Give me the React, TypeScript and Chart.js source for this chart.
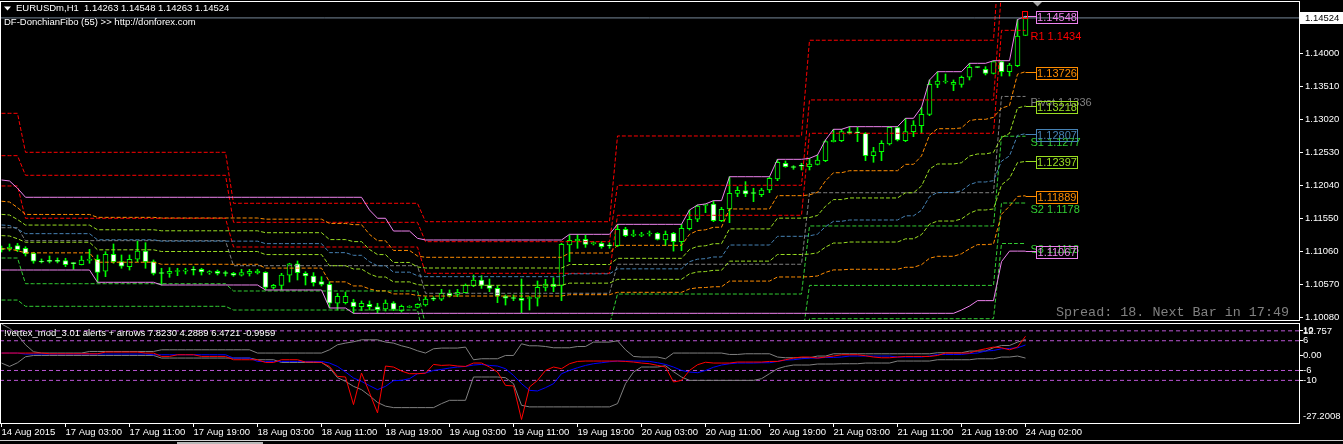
import React, { useEffect, useRef } from 'react';
import { Chart, registerables } from 'chart.js';

Chart.register(...registerables);

// ---------------- DATA ----------------
const SYMBOL = 'EURUSDm,H1';
const INDICATOR_NAME = 'DF-DonchianFibo (55) >> http://donforex.com';
const VERTEX_NAME = '!vertex_mod_3.01 alerts + arrows';
const STATUS_TEXT = 'Spread: 18. Next Bar in 17:49';

const OPEN = [
  1.11113, 1.11099, 1.11148, 1.11109, 1.11035, 1.10921, 1.10929, 1.10921, 1.10926, 1.10884,
  1.10866, 1.10929, 1.10946, 1.10768, 1.11020, 1.10911, 1.10837, 1.10946, 1.11069, 1.10911,
  1.10738, 1.10738, 1.10765, 1.10768, 1.10787, 1.10797, 1.10743, 1.10768, 1.10738, 1.10738,
  1.10709, 1.10738, 1.10743, 1.10753, 1.10530, 1.10560, 1.10709, 1.10877, 1.10738, 1.10698,
  1.10614, 1.10575, 1.10294, 1.10303, 1.10313, 1.10243, 1.10279, 1.10243, 1.10209, 1.10298,
  1.10184, 1.10233, 1.10233, 1.10268, 1.10357, 1.10353, 1.10442, 1.10427, 1.10451, 1.10555,
  1.10639, 1.10565, 1.10515, 1.10402, 1.10368, 1.10368, 1.10365, 1.10368, 1.10530, 1.10580,
  1.10560, 1.11158, 1.11222, 1.11242, 1.11177, 1.11183, 1.11148, 1.11148, 1.11390, 1.11301,
  1.11301, 1.11321, 1.11331, 1.11232, 1.11331, 1.11207, 1.11399, 1.11539, 1.11746, 1.11766,
  1.11519, 1.11692, 1.11924, 1.11963, 1.11924, 1.11904, 1.11973, 1.12136, 1.12369, 1.12310,
  1.12329, 1.12319, 1.12354, 1.12408, 1.12690, 1.12704, 1.12838, 1.12823, 1.12814, 1.12482,
  1.12541, 1.12655, 1.12897, 1.12704, 1.12838, 1.12927, 1.13095, 1.13540, 1.13574, 1.13540,
  1.13540, 1.13644, 1.13792, 1.13762, 1.13703, 1.13875, 1.13727, 1.13816, 1.14263,
];
const HIGH = [
  1.11143, 1.11173, 1.11183, 1.11133, 1.11050, 1.10951, 1.10995, 1.10966, 1.10961, 1.10896,
  1.10995, 1.11094, 1.11010, 1.11059, 1.11173, 1.11010, 1.11010, 1.11217, 1.11192, 1.10936,
  1.10813, 1.10822, 1.10813, 1.10813, 1.10837, 1.10813, 1.10777, 1.10787, 1.10772, 1.10753,
  1.10797, 1.10797, 1.10797, 1.10762, 1.10575, 1.10738, 1.10887, 1.10921, 1.10762, 1.10748,
  1.10688, 1.10614, 1.10442, 1.10461, 1.10353, 1.10328, 1.10328, 1.10294, 1.10343, 1.10318,
  1.10268, 1.10258, 1.10288, 1.10392, 1.10392, 1.10501, 1.10491, 1.10501, 1.10580, 1.10713,
  1.10703, 1.10654, 1.10555, 1.10417, 1.10417, 1.10654, 1.10392, 1.10624, 1.10649, 1.10673,
  1.11183, 1.11306, 1.11316, 1.11306, 1.11207, 1.11207, 1.11192, 1.11464, 1.11420, 1.11380,
  1.11346, 1.11365, 1.11341, 1.11365, 1.11346, 1.11464, 1.11677, 1.11751, 1.11766, 1.11815,
  1.11717, 1.12170, 1.12022, 1.12097, 1.11999, 1.11999, 1.12170, 1.12428, 1.12403, 1.12334,
  1.12369, 1.12443, 1.12492, 1.12715, 1.12873, 1.12873, 1.12912, 1.12903, 1.12823, 1.12606,
  1.12704, 1.12912, 1.12912, 1.13036, 1.13001, 1.13199, 1.13604, 1.13727, 1.13693, 1.13604,
  1.13663, 1.13851, 1.13797, 1.13801, 1.13890, 1.13890, 1.13851, 1.14501, 1.14548,
];
const LOW = [
  1.11054, 1.11069, 1.11059, 1.10995, 1.10887, 1.10892, 1.10892, 1.10892, 1.10837, 1.10797,
  1.10862, 1.10887, 1.10605, 1.10688, 1.10887, 1.10813, 1.10787, 1.10911, 1.10813, 1.10713,
  1.10565, 1.10679, 1.10703, 1.10728, 1.10713, 1.10713, 1.10723, 1.10713, 1.10698, 1.10694,
  1.10698, 1.10698, 1.10728, 1.10491, 1.10505, 1.10491, 1.10609, 1.10639, 1.10565, 1.10550,
  1.10550, 1.10224, 1.10194, 1.10283, 1.10145, 1.10184, 1.10194, 1.10145, 1.10179, 1.10184,
  1.10164, 1.10228, 1.10224, 1.10253, 1.10333, 1.10333, 1.10387, 1.10392, 1.10447, 1.10540,
  1.10515, 1.10466, 1.10303, 1.10268, 1.10333, 1.10155, 1.10194, 1.10253, 1.10476, 1.10466,
  1.10333, 1.10911, 1.11109, 1.11123, 1.11158, 1.11109, 1.11109, 1.11133, 1.11281, 1.11281,
  1.11281, 1.11291, 1.11232, 1.11148, 1.11067, 1.11074, 1.11380, 1.11504, 1.11637, 1.11504,
  1.11504, 1.11489, 1.11874, 1.11874, 1.11800, 1.11874, 1.11933, 1.12111, 1.12310, 1.12280,
  1.12270, 1.12270, 1.12344, 1.12393, 1.12685, 1.12690, 1.12804, 1.12690, 1.12408, 1.12384,
  1.12408, 1.12640, 1.12700, 1.12690, 1.12764, 1.12814, 1.13075, 1.13490, 1.13555, 1.13446,
  1.13496, 1.13604, 1.13786, 1.13678, 1.13693, 1.13663, 1.13663, 1.13801, 1.14263,
];
const CLOSE = [
  1.11084, 1.11128, 1.11088, 1.11029, 1.10917, 1.10906, 1.10914, 1.10914, 1.10866, 1.10881,
  1.10936, 1.10936, 1.10753, 1.11020, 1.10911, 1.10843, 1.10946, 1.11069, 1.10911, 1.10738,
  1.10735, 1.10768, 1.10777, 1.10787, 1.10784, 1.10757, 1.10762, 1.10738, 1.10735, 1.10709,
  1.10748, 1.10768, 1.10772, 1.10530, 1.10560, 1.10713, 1.10877, 1.10748, 1.10698, 1.10599,
  1.10575, 1.10294, 1.10397, 1.10397, 1.10243, 1.10294, 1.10243, 1.10199, 1.10298, 1.10204,
  1.10249, 1.10249, 1.10279, 1.10357, 1.10354, 1.10442, 1.10406, 1.10457, 1.10560, 1.10639,
  1.10560, 1.10515, 1.10402, 1.10368, 1.10365, 1.10338, 1.10368, 1.10530, 1.10580, 1.10540,
  1.11168, 1.11228, 1.11242, 1.11168, 1.11183, 1.11133, 1.11145, 1.11390, 1.11296, 1.11306,
  1.11311, 1.11331, 1.11242, 1.11316, 1.11207, 1.11405, 1.11539, 1.11736, 1.11755, 1.11519,
  1.11687, 1.11924, 1.11969, 1.11914, 1.11921, 1.11973, 1.12146, 1.12384, 1.12319, 1.12307,
  1.12326, 1.12359, 1.12418, 1.12690, 1.12710, 1.12838, 1.12814, 1.12820, 1.12482, 1.12541,
  1.12666, 1.12903, 1.12715, 1.12838, 1.12937, 1.13095, 1.13540, 1.13589, 1.13589, 1.13570,
  1.13644, 1.13792, 1.13789, 1.13703, 1.13875, 1.13727, 1.13826, 1.14256, 1.14524,
];

// Donchian (55) channel
const DON_UPPER = [
  1.12122, 1.12107, 1.11999, 1.11865, 1.11865, 1.11865, 1.11865, 1.11865, 1.11865, 1.11865,
  1.11865, 1.11865, 1.11865, 1.11865, 1.11865, 1.11865, 1.11865, 1.11865, 1.11865, 1.11865,
  1.11865, 1.11865, 1.11865, 1.11865, 1.11865, 1.11865, 1.11865, 1.11865, 1.11865, 1.11865,
  1.11865, 1.11865, 1.11865, 1.11865, 1.11865, 1.11865, 1.11865, 1.11865, 1.11865, 1.11865,
  1.11865, 1.11865, 1.11865, 1.11865, 1.11865, 1.11865, 1.11677, 1.11554, 1.11554, 1.11365,
  1.11365, 1.11365, 1.11257, 1.11232, 1.11232, 1.11232, 1.11232, 1.11232, 1.11232, 1.11232,
  1.11232, 1.11232, 1.11232, 1.11232, 1.11232, 1.11232, 1.11232, 1.11232, 1.11232, 1.11232,
  1.11232, 1.11316, 1.11316, 1.11316, 1.11316, 1.11316, 1.11316, 1.11464, 1.11464, 1.11464,
  1.11464, 1.11464, 1.11464, 1.11464, 1.11464, 1.11464, 1.11677, 1.11751, 1.11766, 1.11815,
  1.11815, 1.12170, 1.12170, 1.12170, 1.12170, 1.12170, 1.12170, 1.12428, 1.12428, 1.12428,
  1.12428, 1.12443, 1.12492, 1.12715, 1.12873, 1.12873, 1.12912, 1.12912, 1.12912, 1.12912,
  1.12912, 1.12912, 1.12912, 1.13036, 1.13036, 1.13199, 1.13604, 1.13727, 1.13727, 1.13727,
  1.13727, 1.13851, 1.13851, 1.13851, 1.13890, 1.13890, 1.13890, 1.14501, 1.14548,
];
const DON_LOWER = [
  1.10787, 1.10787, 1.10787, 1.10787, 1.10787, 1.10787, 1.10787, 1.10787, 1.10787, 1.10787,
  1.10787, 1.10787, 1.10605, 1.10605, 1.10605, 1.10605, 1.10605, 1.10605, 1.10605, 1.10605,
  1.10565, 1.10565, 1.10565, 1.10565, 1.10565, 1.10565, 1.10565, 1.10565, 1.10565, 1.10565,
  1.10565, 1.10565, 1.10565, 1.10491, 1.10491, 1.10491, 1.10491, 1.10491, 1.10491, 1.10491,
  1.10491, 1.10224, 1.10224, 1.10224, 1.10145, 1.10145, 1.10145, 1.10145, 1.10145, 1.10145,
  1.10145, 1.10145, 1.10145, 1.10145, 1.10145, 1.10145, 1.10145, 1.10145, 1.10145, 1.10145,
  1.10145, 1.10145, 1.10145, 1.10145, 1.10145, 1.10145, 1.10145, 1.10145, 1.10145, 1.10145,
  1.10145, 1.10145, 1.10145, 1.10145, 1.10145, 1.10145, 1.10145, 1.10145, 1.10145, 1.10145,
  1.10145, 1.10145, 1.10145, 1.10145, 1.10145, 1.10145, 1.10145, 1.10145, 1.10145, 1.10145,
  1.10145, 1.10145, 1.10145, 1.10145, 1.10145, 1.10145, 1.10145, 1.10145, 1.10145, 1.10145,
  1.10145, 1.10145, 1.10145, 1.10145, 1.10145, 1.10145, 1.10145, 1.10145, 1.10145, 1.10145,
  1.10145, 1.10145, 1.10145, 1.10145, 1.10145, 1.10145, 1.10145, 1.10145, 1.10145, 1.10145,
  1.10194, 1.10253, 1.10333, 1.10333, 1.10333, 1.10911, 1.11067, 1.11067, 1.11067,
];
const FIB_RATIOS = [0.236, 0.382, 0.5, 0.618, 0.764];

// Daily pivots: first bar of each day, then levels per day
const PIVOT_DAY_START = [0, 3, 29, 53, 77, 101, 125];
const PIV_R3 = [1.13110, 1.12532, 1.11776, 1.11503, 1.12774, 1.14193, 1.1591];
const PIV_R2 = [1.12482, 1.12191, 1.11494, 1.11207, 1.12043, 1.13308, 1.1493];
const PIV_R1 = [1.12033, 1.11554, 1.11128, 1.10738, 1.11598, 1.12814, 1.1434];
const PIV_PP = [1.11414, 1.11222, 1.10851, 1.10442, 1.10872, 1.11933, 1.1336];
const PIV_S1 = [1.10965, 1.10584, 1.10476, 1.09972, 1.10431, 1.11440, 1.1277];
const PIV_S2 = [1.10342, 1.10249, 1.10194, 1.09675, 1.09700, 1.10559, 1.1178];
const PIV_S3 = [1.09898, 1.09616, 1.09838, 1.09379, 1.09260, 1.10065, 1.1118];

const PRICE_TICKS = [1.1008, 1.1057, 1.1106, 1.1155, 1.1204, 1.1253, 1.1302, 1.1351, 1.14];

const TIME_TICK_BARS = [0, 8, 16, 24, 32, 40, 48, 56, 64, 72, 80, 88, 96, 104, 112, 120, 128];
const TIME_TICK_LABELS = [
  '14 Aug 2015', '17 Aug 03:00', '17 Aug 11:00', '17 Aug 19:00', '18 Aug 03:00', '18 Aug 11:00',
  '18 Aug 19:00', '19 Aug 03:00', '19 Aug 11:00', '19 Aug 19:00', '20 Aug 03:00', '20 Aug 11:00',
  '20 Aug 19:00', '21 Aug 03:00', '21 Aug 11:00', '21 Aug 19:00', '24 Aug 02:00',
];

// Vertex oscillator
const VTX_MAIN = [
  1.03, 1.03, 1.03, 1.03, 1.03, 1.03, 0.74, 0.74, 0.74, 0.74,
  0.74, 0.74, 0.74, 1.43, 1.43, 1.43, 1.43, 1.43, 1.03, 1.03,
  -0.34, -0.34, 0.34, 0.34, 0.34, -0.34, -0.34, -0.34, -0.34, -1.67,
  -1.67, -1.67, -1.67, -2.76, -2.76, -1.67, -1.67, -1.67, -2.60, -2.60,
  -2.76, -4.37, -8.39, -8.63, -19.78, -7.02, -15.0, -23.12, -4.21, -4.61,
  -6.22, -7.30, -7.30, -7.10, -3.56, -3.96, -3.80, -4.21, -4.37, -3.00,
  -3.00, -4.61, -6.62, -12.01, -12.25, -25.80, -12.66, -10.00, -5.98, -4.61,
  -5.29, -3.28, -2.35, -2.19, -2.19, -2.19, -2.19, -2.19, -2.35, -2.60,
  -3.00, -3.28, -3.96, -4.61, -10.64, -10.00, -5.98, -3.68, -2.68, -3.00,
  -3.00, -3.00, -2.60, -2.60, -2.60, -2.60, -2.35, -2.35, -1.67, -0.99,
  -0.58, -0.58, -0.99, -0.58, -0.18, 0.34, 0.34, 0.34, -0.06, -0.58,
  -0.87, -0.87, -0.58, -0.34, -0.34, -0.34, -0.34, 0.06, 1.03, 1.03,
  1.03, 1.03, 2.07, 2.76, 3.44, 3.16, 2.35, 3.44, 7.8230,
];
const VTX_SIGNAL = [
  1.03, 1.03, 1.03, 0.62, 0.62, 0.62, 0.62, 0.62, 0.62, 0.62,
  0.62, 0.62, 0.62, 0.62, 0.62, 0.62, 0.62, 0.62, 0.62, 0.34,
  0.34, 0.34, 0.34, 0.34, 0.34, 0.34, 0.34, 0.34, 0.34, -0.99,
  -0.99, -0.99, -2.35, -2.35, -2.35, -2.35, -2.35, -2.35, -2.35, -2.35,
  -2.35, -3.00, -4.37, -6.62, -9.03, -10.40, -12.13, -13.74, -12.41, -10.12,
  -10.00, -9.32, -7.30, -7.02, -5.98, -5.57, -5.01, -4.61, -4.37, -3.80,
  -3.56, -3.96, -4.21, -5.29, -7.99, -11.33, -14.02, -14.27, -12.94, -11.33,
  -7.30, -5.98, -4.89, -3.96, -3.28, -2.88, -2.47, -2.19, -2.19, -2.19,
  -2.19, -2.35, -2.88, -3.56, -4.61, -5.98, -6.62, -6.90, -6.00, -4.70,
  -3.80, -3.28, -3.00, -3.00, -3.00, -2.88, -2.88, -2.35, -1.79, -1.67,
  -1.27, -0.99, -0.99, -0.74, -0.74, -0.58, -0.18, -0.18, -0.18, -0.18,
  -0.18, -0.18, -0.58, -0.58, -0.58, -0.58, -0.18, 0.46, 0.46, 0.46,
  0.46, 0.87, 1.03, 1.83, 2.07, 2.76, 2.88, 3.16, 4.2889,
];
const VTX_UPPER = [
  12.757, 11.0, 8.39, 4.37, 1.55, 1.03, 1.03, 1.03, 1.03, 1.03,
  1.03, 1.67, 1.67, 1.67, 1.67, 1.67, 1.67, 1.67, 1.67, 1.67,
  2.35, 2.35, 2.35, 2.35, 2.35, 2.35, 2.35, 2.35, 2.35, 2.35,
  2.35, 2.35, 1.03, 1.03, 1.03, 1.03, 1.03, 1.03, 1.03, 1.03,
  1.03, 2.35, 4.37, 5.05, 5.57, 6.38, 6.38, 6.38, 5.45, 5.05,
  3.96, 3.16, 1.95, 1.03, 2.76, 3.04, 3.04, 3.04, 3.44, -1.67,
  -1.27, -1.27, -1.27, 0.06, 0.06, 4.77, 3.96, 3.96, 3.68, 3.16,
  3.16, 3.16, 3.68, 3.68, 5.45, 5.45, 5.45, 5.98, 2.35, -0.34,
  -0.58, -0.58, -0.58, -1.27, 1.03, 1.03, 1.03, 1.03, 1.03, 1.03,
  1.03, 0.46, 0.46, 0.74, 0.74, 0.74, 0.74, -0.58, -0.87, -0.87,
  -0.87, -0.87, -0.18, -0.18, 0.74, 0.74, 0.74, 0.74, 0.74, 0.74,
  0.74, 0.74, 0.74, 0.74, 0.74, 0.74, 0.74, 1.15, 1.15, 1.15,
  1.15, 1.83, 1.83, 1.83, 3.16, 4.08, 4.08, 5.45, 6.4721,
];
const VTX_LOWER = [
  -3.00, -4.37, -2.88, -0.46, 0.06, 0.06, 0.06, 0.06, 0.06, 0.06,
  0.06, 0.06, 0.06, 0.06, 0.06, 0.06, 0.06, 0.06, 0.06, 0.06,
  -0.99, -0.99, -0.99, -0.99, -0.99, -0.99, -0.99, -0.99, -0.99, -0.99,
  -0.99, -0.99, -1.67, -1.67, -1.67, -2.76, -2.76, -2.76, -2.76, -2.76,
  -2.76, -4.89, -8.91, -10.40, -12.41, -13.74, -16.16, -18.90, -20.40, -20.99,
  -20.99, -20.99, -20.99, -20.99, -20.99, -19.38, -18.05, -18.05, -18.05, -8.63,
  -8.63, -8.63, -8.63, -8.91, -11.33, -20.06, -20.70, -20.70, -20.70, -20.70,
  -20.70, -20.70, -20.70, -20.70, -20.70, -20.70, -20.70, -19.38, -11.33, -6.62,
  -4.61, -4.61, -4.61, -4.08, -6.50, -8.63, -10.00, -10.00, -10.00, -10.00,
  -10.00, -10.00, -10.00, -10.00, -10.00, -9.32, -7.30, -5.29, -4.37, -3.80,
  -3.80, -3.80, -3.40, -3.40, -3.40, -3.28, -3.28, -3.28, -3.00, -3.00,
  -3.00, -3.00, -2.19, -2.19, -2.19, -2.19, -2.19, -1.67, -1.67, -1.67,
  -1.67, -1.67, -1.27, -1.27, -1.27, -0.58, -0.58, -0.18, -0.9959,
];
const VTX_LEVELS = [10, 6, -6, -10];
const VTX_TICKS = [10, 6, 0, -6, -10];
const VTX_MAX = 12.757;
const VTX_MIN = -27.2008;

// ---------------- STYLE / LAYOUT ----------------
const FONT = '"Liberation Sans", Arial, sans-serif';
const AXIS_FONT = { family: FONT, size: 9.5 };
const CANDLE = '#00ff00';
const PINK = '#ee82ee';
const FIB_COLORS = ['#ff8c00', '#9ade22', '#4682b4', '#9ade22', '#ff8c00'];
const P_RED = '#ff0000';
const P_GRAY = '#808080';
const P_GREEN = '#32cd32';
const PRICE_LINE = '#778899';
const PURPLE = '#ba55d3';

const X_MIN = -0.1875;
const X_MAX = 162.1875;
const PRICE_MIN = 1.10046;
const PRICE_MAX = 1.1476;

const BARS = OPEN.map((_, i) => i);
const LAST = OPEN.length - 1;

function dayOf(i: number) {
  let d = 0;
  for (let k = 0; k < PIVOT_DAY_START.length; k++) if (i >= PIVOT_DAY_START[k]) d = k;
  return d;
}
const pts = (arr: number[]) => arr.map((v, i) => ({ x: i, y: v }));
const fibSeries = (r: number) => BARS.map((i) => ({ x: i, y: DON_LOWER[i] + r * (DON_UPPER[i] - DON_LOWER[i]) }));
const pivotSeries = (lv: number[]) => BARS.map((i) => ({ x: i, y: lv[dayOf(i)] }));
const line = (data: any[], color: string, dash: number[], order: number) => ({
  type: 'line', data, borderColor: color, backgroundColor: color, borderWidth: 1, borderDash: dash,
  pointRadius: 0, tension: 0, fill: false, order,
});

const mainPlugin = {
  id: 'mainDecor',
  afterDraw(chart: any) {
    const { ctx, chartArea: ca, scales } = chart;
    const x = scales.x, y = scales.y;
    ctx.save();
    // frame
    ctx.strokeStyle = '#ffffff';
    ctx.lineWidth = 1;
    ctx.strokeRect(ca.left + 0.5, ca.top - 0.5, ca.right - ca.left, ca.bottom - ca.top + 1);

    // header
    ctx.fillStyle = '#ffffff';
    ctx.beginPath(); ctx.moveTo(4, 6.5); ctx.lineTo(11, 6.5); ctx.lineTo(7.5, 10.5); ctx.closePath(); ctx.fill();
    ctx.font = `9.5px ${FONT}`;
    ctx.textBaseline = 'middle';
    ctx.textAlign = 'left';
    const o = OPEN[LAST].toFixed(5), h = HIGH[LAST].toFixed(5), l = LOW[LAST].toFixed(5), c = CLOSE[LAST].toFixed(5);
    ctx.fillText(`${SYMBOL}  ${o} ${h} ${l} ${c}`, 16, 8.5);
    ctx.fillText(INDICATOR_NAME, 4, 22.5);

    const lastX = x.getPixelForValue(LAST);

    // pivot labels
    ctx.font = `11px ${FONT}`;
    const d = PIVOT_DAY_START.length - 1;
    const pivLabels = [
      ['R3', PIV_R3[d], P_RED], ['R2', PIV_R2[d], P_RED], ['R1', PIV_R1[d], P_RED],
      ['Pivot', PIV_PP[d], P_GRAY], ['S1', PIV_S1[d], P_GREEN], ['S2', PIV_S2[d], P_GREEN], ['S3', PIV_S3[d], P_GREEN],
    ];
    for (const [name, v, col] of pivLabels as any) {
      const py = y.getPixelForValue(v);
      if (py < ca.top || py > ca.bottom) continue;
      ctx.fillStyle = col;
      ctx.fillText(`${name} ${v.toFixed(4)}`, lastX + 5, py + 6.5);
    }

    // fibo boxes
    const boxL = Math.round(lastX + 10.5);
    const levels: [number, string][] = [[DON_UPPER[LAST], PINK], [DON_LOWER[LAST], PINK]];
    FIB_RATIOS.forEach((r, k) => levels.push([DON_LOWER[LAST] + r * (DON_UPPER[LAST] - DON_LOWER[LAST]), FIB_COLORS[k]]));
    ctx.font = `11px ${FONT}`;
    ctx.textAlign = 'center';
    for (const [v, col] of levels) {
      const py = Math.round(y.getPixelForValue(v));
      ctx.strokeStyle = col;
      ctx.fillStyle = col;
      ctx.beginPath(); ctx.moveTo(lastX, py + 0.5); ctx.lineTo(boxL, py + 0.5); ctx.stroke();
      ctx.strokeRect(boxL + 0.5, py - 5 + 0.5, 41, 12);
      ctx.fillText(v.toFixed(5), boxL + 21, py + 1.5);
    }

    // signal marker on last bar
    const hy = Math.round(y.getPixelForValue(HIGH[LAST]));
    ctx.strokeStyle = P_RED;
    ctx.strokeRect(Math.round(lastX - 4) + 0.5, hy - 5 + 0.5, 5, 7);

    // chart shift triangle
    ctx.fillStyle = '#a0a0a0';
    ctx.beginPath(); ctx.moveTo(1033, 2); ctx.lineTo(1042, 2); ctx.lineTo(1037.5, 6.5); ctx.closePath(); ctx.fill();

    // current price box
    const cy = Math.round(y.getPixelForValue(CLOSE[LAST]));
    ctx.fillStyle = '#ffffff';
    ctx.fillRect(ca.right + 1, cy - 6, 43, 12);
    ctx.fillStyle = '#000000';
    ctx.textAlign = 'left';
    ctx.font = `9.5px ${FONT}`;
    ctx.fillText(CLOSE[LAST].toFixed(5), ca.right + 6, cy + 0.5);

    // status text
    ctx.font = `13.4px "Liberation Mono", "DejaVu Sans Mono", monospace`;
    ctx.fillStyle = '#808080';
    ctx.textAlign = 'right';
    ctx.fillText(STATUS_TEXT, ca.right - 10, ca.bottom - 8);
    ctx.restore();
  },
};

const subPlugin = {
  id: 'subDecor',
  afterDraw(chart: any) {
    const { ctx, chartArea: ca, scales } = chart;
    const y = scales.y;
    ctx.save();
    ctx.strokeStyle = '#ffffff';
    ctx.lineWidth = 1;
    ctx.strokeRect(ca.left + 0.5, ca.top - 0.5, ca.right - ca.left, ca.bottom - ca.top + 1);
    ctx.fillStyle = '#ffffff';
    ctx.font = `9.5px ${FONT}`;
    ctx.textBaseline = 'middle';
    ctx.textAlign = 'left';
    const f = (v: number) => v.toFixed(4);
    ctx.fillText(`${VERTEX_NAME} ${f(VTX_MAIN[LAST])} ${f(VTX_SIGNAL[LAST])} ${f(VTX_UPPER[LAST])} ${f(VTX_LOWER[LAST])}`, 4, ca.top + 9);
    ctx.fillText(String(VTX_MAX), ca.right + 4, y.getPixelForValue(VTX_MAX) + 7.5);
    ctx.fillText(String(VTX_MIN), ca.right + 4, y.getPixelForValue(VTX_MIN) - 6.5);
    // window bottom edge
    ctx.fillStyle = '#d0d0d0';
    ctx.fillRect(0, 117, chart.width, 1);
    ctx.fillStyle = '#b8b8b8';
    ctx.fillRect(177, 119, 86, 2);
    ctx.restore();
  },
};

function mainConfig(): any {
  const body = {
    type: 'bar',
    data: BARS.map((i) => ({ x: i, y: [OPEN[i], CLOSE[i]] })),
    backgroundColor: BARS.map((i) => (CLOSE[i] < OPEN[i] ? '#ffffff' : '#000000')),
    borderColor: CANDLE,
    borderWidth: 1,
    borderSkipped: false,
    barThickness: 5,
    minBarLength: 1,
    grouped: false,
    order: 21,
  };
  const wick = {
    type: 'bar',
    data: BARS.map((i) => ({ x: i, y: [LOW[i], HIGH[i]] })),
    backgroundColor: CANDLE,
    borderWidth: 0,
    barThickness: 1,
    grouped: false,
    order: 22,
  };
  const datasets: any[] = [
    line([{ x: X_MIN, y: CLOSE[LAST] }, { x: X_MAX, y: CLOSE[LAST] }], PRICE_LINE, [], 1),
    line(pts(DON_UPPER), PINK, [], 2),
    line(pts(DON_LOWER), PINK, [], 2),
    ...FIB_RATIOS.map((r, k) => line(fibSeries(r), FIB_COLORS[k], [4, 2], 3)),
    line(pivotSeries(PIV_R3), P_RED, [4, 2], 4),
    line(pivotSeries(PIV_R2), P_RED, [4, 2], 4),
    line(pivotSeries(PIV_R1), P_RED, [4, 2], 4),
    line(pivotSeries(PIV_PP), P_GRAY, [4, 2], 4),
    line(pivotSeries(PIV_S1), P_GREEN, [4, 2], 4),
    line(pivotSeries(PIV_S2), P_GREEN, [4, 2], 4),
    line(pivotSeries(PIV_S3), P_GREEN, [4, 2], 4),
    body,
    wick,
  ];
  return {
    type: 'bar',
    data: { datasets },
    options: {
      animation: false,
      responsive: false,
      devicePixelRatio: 1,
      events: [],
      layout: { padding: { top: 2, bottom: 3, left: 0, right: 0 } },
      plugins: { legend: { display: false }, tooltip: { enabled: false } },
      scales: {
        x: { type: 'linear', min: X_MIN, max: X_MAX, offset: false, display: false },
        y: {
          position: 'right',
          min: PRICE_MIN,
          max: PRICE_MAX,
          afterFit: (s: any) => { s.width = 44; s.paddingTop = 0; s.paddingBottom = 0; },
          afterBuildTicks: (s: any) => { s.ticks = PRICE_TICKS.map((v) => ({ value: v })); },
          ticks: { autoSkip: false, color: '#ffffff', padding: 2, font: AXIS_FONT, callback: (v: any) => Number(v).toFixed(5) },
          grid: { drawOnChartArea: false, drawTicks: true, tickLength: 4, color: '#ffffff' },
          border: { display: false },
        },
      },
    },
    plugins: [mainPlugin],
  };
}

function subConfig(): any {
  const datasets: any[] = [
    ...VTX_LEVELS.map((lv) => line([{ x: X_MIN, y: lv }, { x: X_MAX, y: lv }], PURPLE, [4, 3], 10)),
    line(pts(VTX_UPPER), P_GRAY, [], 5),
    line(pts(VTX_LOWER), P_GRAY, [], 5),
    line(pts(VTX_SIGNAL), '#0000ff', [], 3),
    line(pts(VTX_MAIN), '#ff0000', [], 2),
  ];
  return {
    type: 'line',
    data: { datasets },
    options: {
      animation: false,
      responsive: false,
      devicePixelRatio: 1,
      events: [],
      layout: { padding: { top: 1, bottom: 0, left: 0, right: 0 } },
      plugins: { legend: { display: false }, tooltip: { enabled: false } },
      scales: {
        x: {
          type: 'linear', min: X_MIN, max: X_MAX, offset: false,
          afterBuildTicks: (s: any) => { s.ticks = TIME_TICK_BARS.map((v) => ({ value: v })); },
          afterFit: (s: any) => { s.height = 21; s.paddingLeft = 0; s.paddingRight = 0; },
          ticks: {
            autoSkip: false, maxRotation: 0, minRotation: 0, align: 'start', padding: 0,
            color: '#ffffff', font: AXIS_FONT,
            callback: (_v: any, i: number) => TIME_TICK_LABELS[i],
          },
          grid: { drawOnChartArea: false, drawTicks: true, tickLength: 4, color: '#ffffff' },
          border: { display: false },
        },
        y: {
          position: 'right', min: VTX_MIN, max: VTX_MAX,
          afterFit: (s: any) => { s.width = 44; s.paddingTop = 0; s.paddingBottom = 0; },
          afterBuildTicks: (s: any) => { s.ticks = VTX_TICKS.map((v) => ({ value: v })); },
          ticks: {
            autoSkip: false, color: '#ffffff', padding: 0, font: AXIS_FONT,
            callback: (v: any) => (Number(v) === 0 ? '0.00' : String(v)),
          },
          grid: { drawOnChartArea: false, drawTicks: true, tickLength: 4, color: '#ffffff' },
          border: { display: false },
        },
      },
    },
    plugins: [subPlugin],
  };
}

export default function App() {
  const mainRef = useRef<HTMLCanvasElement>(null);
  const subRef = useRef<HTMLCanvasElement>(null);
  useEffect(() => {
    document.body.style.margin = '0';
    document.body.style.background = '#000000';
    const main = new Chart(mainRef.current as HTMLCanvasElement, mainConfig());
    const sub = new Chart(subRef.current as HTMLCanvasElement, subConfig());
    return () => { main.destroy(); sub.destroy(); };
  }, []);
  return (
    <div style={{ position: 'relative', width: 1343, height: 444, background: '#000000', overflow: 'hidden' }}>
      <canvas ref={mainRef} width={1343} height={323} style={{ position: 'absolute', left: 0, top: 0 }} />
      <canvas ref={subRef} width={1343} height={121} style={{ position: 'absolute', left: 0, top: 323 }} />
    </div>
  );
}
